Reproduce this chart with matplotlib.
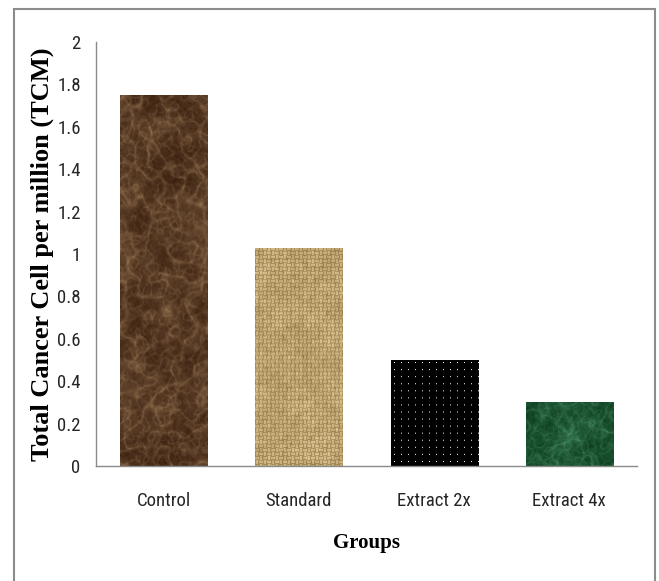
import numpy as np
import matplotlib
matplotlib.use("Agg")
import matplotlib.pyplot as plt
from matplotlib.patches import Rectangle
from matplotlib.colors import to_rgb

# --- DATA
groups = ["Control", "Standard", "Extract 2x", "Extract 4x"]
tcm = [1.75, 1.03, 0.50, 0.30]
y_ticks = [0, 0.2, 0.4, 0.6, 0.8, 1, 1.2, 1.4, 1.6, 1.8, 2]
y_tick_labels = ["0", "0.2", "0.4", "0.6", "0.8", "1", "1.2", "1.4", "1.6", "1.8", "2"]

rng = np.random.default_rng(7)

TICK_FONT = ["Roboto Condensed", "Carlito", "DejaVu Sans"]
LABEL_FONT = ["Liberation Serif", "DejaVu Serif"]


# --- TEXTURE HELPERS
def smooth_noise(h, w, scale):
    """Low-pass filtered noise in [0, 1]."""
    n = rng.standard_normal((h, w))
    fy = np.fft.fftfreq(h)[:, None]
    fx = np.fft.fftfreq(w)[None, :]
    f = np.exp(-(fx**2 + fy**2) * (scale**2) * 20)
    out = np.real(np.fft.ifft2(np.fft.fft2(n) * f))
    out -= out.min()
    return out / out.max()


def ridged(h, w, scale, p=10):
    return (1 - np.abs(2 * smooth_noise(h, w, scale) - 1)) ** p


def marble(h, w, dark, light):
    base = 0.5 * smooth_noise(h, w, 12) + 0.3 * smooth_noise(h, w, 4) + 0.2 * smooth_noise(h, w, 1)
    veins = 0.45 * ridged(h, w, 5) + 0.35 * ridged(h, w, 2.5) + 0.2 * ridged(h, w, 1.2, 4)
    t = np.clip(0.45 * base**2 + 0.55 * veins, 0, 1)
    d, l = np.array(to_rgb(dark)), np.array(to_rgb(light))
    return d + (l - d) * t[..., None]


def burlap(h, w):
    yy, xx = np.mgrid[0:h, 0:w]
    cell = 4
    check = ((xx // cell + yy // cell) % 2).astype(float)
    warp = np.sin(np.pi * (xx % cell + 0.5) / cell)
    weft = np.sin(np.pi * (yy % cell + 0.5) / cell)
    t = check * warp + (1 - check) * weft
    t = 0.6 * t + 0.4 * smooth_noise(h, w, 1.0)
    t = t * (0.75 + 0.25 * smooth_noise(h, w, 6))
    d, l = np.array(to_rgb("#7a5a26")), np.array(to_rgb("#f2dfac"))
    return d + (l - d) * np.clip(t, 0, 1)[..., None]


def dots(h, w, step=7):
    img = np.zeros((h, w, 3))
    img[3::step, 3::step] = 0.95
    return img


def fill_texture(ax, patch, img):
    x0, y0 = patch.get_x(), patch.get_y()
    im = ax.imshow(img, extent=(x0, x0 + patch.get_width(), y0, y0 + patch.get_height()),
                   aspect="auto", interpolation="bilinear", zorder=2)
    im.set_clip_path(patch)


# --- FIGURE
fig = plt.figure(figsize=(6.59, 5.81), dpi=100)
ax = fig.add_axes([96 / 659, 115 / 581, 541 / 659, 424 / 581])

x = np.arange(len(groups))
bars = ax.bar(x, tcm, width=0.645, color="none", edgecolor="none", zorder=2)

textures = [
    marble(372, 88, "#361c0c", "#b8946c"),
    burlap(218, 88),
    dots(106, 88),
    marble(64, 88, "#0a3a1c", "#62b282"),
]
for bar, tex in zip(bars, textures):
    fill_texture(ax, bar, tex)

ax.set_xlim(-0.5, len(groups) - 0.5)
ax.set_ylim(0, 2)
ax.set_yticks(y_ticks)
ax.set_yticklabels(y_tick_labels, family=TICK_FONT, fontsize=13.5, color="#262626")
ax.set_xticks(x)
ax.set_xticklabels(groups, family=TICK_FONT, fontsize=13.5, color="#262626")
ax.tick_params(axis="y", length=0, pad=11)
ax.tick_params(axis="x", length=0, pad=19)

for side in ("top", "right"):
    ax.spines[side].set_visible(False)
for side in ("left", "bottom"):
    ax.spines[side].set_color("#8a8a8a")
    ax.spines[side].set_linewidth(1.0)

fig.text(42 / 659, 0.563, "Total Cancer Cell per million (TCM)", rotation=90,
         ha="center", va="center", family=LABEL_FONT, weight="bold", fontsize=19)
fig.text(366 / 659, 0.065, "Groups", ha="center", va="center",
         family=LABEL_FONT, weight="bold", fontsize=15)

# outer frame
fig.patches.append(Rectangle((14 / 659, -0.05), 641 / 659, (572 / 581) + 0.05,
                             transform=fig.transFigure, fill=False,
                             edgecolor="#8c8c8c", linewidth=1.5))

fig.savefig("out.png", dpi=100)
